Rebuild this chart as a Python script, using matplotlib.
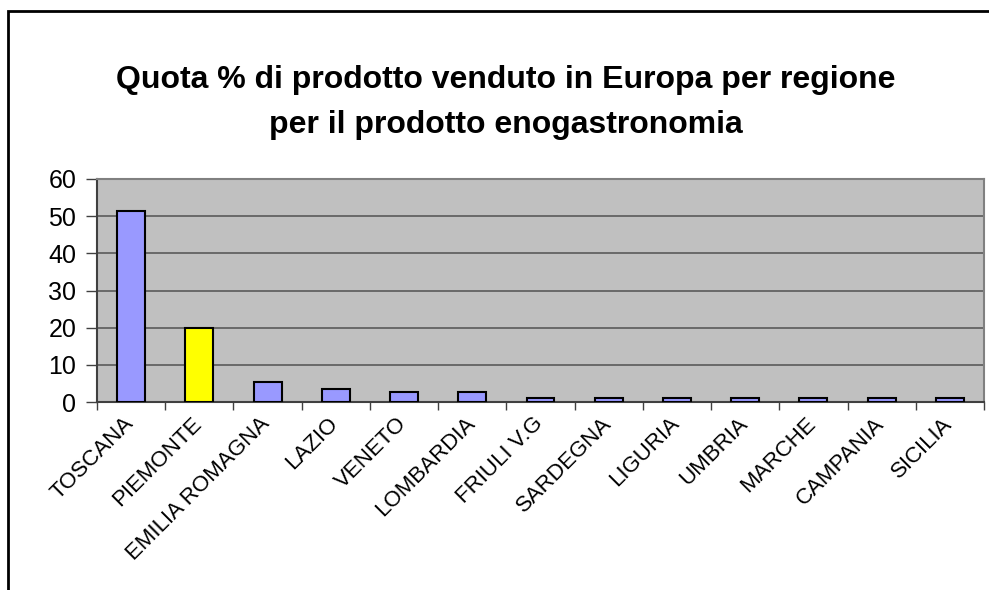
import matplotlib.pyplot as plt
import matplotlib.transforms as mtransforms
import numpy as np
from matplotlib.patches import Rectangle

plt.rcParams['font.family'] = ['Liberation Sans', 'DejaVu Sans']

# Data
regions = ['TOSCANA', 'PIEMONTE', 'EMILIA ROMAGNA', 'LAZIO', 'VENETO', 'LOMBARDIA',
           'FRIULI V.G', 'SARDEGNA', 'LIGURIA', 'UMBRIA', 'MARCHE', 'CAMPANIA', 'SICILIA']
quota = [51.5, 19.8, 5.3, 3.6, 2.7, 2.7, 1.0, 1.0, 1.0, 1.0, 1.0, 1.0, 1.0]
bar_colors = ['#9999FF', '#FFFF00'] + ['#9999FF'] * 11
y_ticks = [0, 10, 20, 30, 40, 50, 60]

fig = plt.figure(figsize=(9.89, 5.90), dpi=100)

# outer chart frame (only left and top edges fall inside the picture)
fig.patches.append(Rectangle((8 / 989, -0.1), 1.2, (590 - 11) / 590 + 0.1,
                             transform=fig.transFigure, fill=False,
                             edgecolor='black', linewidth=2))

ax = fig.add_axes([97 / 989, (590 - 402) / 590, (984 - 97) / 989, (402 - 179) / 590])
ax.set_facecolor('#C0C0C0')

x = np.arange(len(regions))
ax.bar(x, quota, width=0.41, color=bar_colors, edgecolor='black', linewidth=1.5, zorder=3)

ax.set_xlim(-0.5, len(regions) - 0.5)
ax.set_ylim(0, 60)
ax.set_yticks(y_ticks)
ax.set_yticklabels([str(v) for v in y_ticks], fontsize=18)
ax.yaxis.grid(True, color='#5a5a5a', linewidth=1.2, zorder=1)
ax.tick_params(axis='y', length=8, width=1, color='#404040', pad=7)

ax.set_xticks(x)
ax.set_xticklabels(regions, rotation=45, ha='right', rotation_mode='anchor', fontsize=16)
ax.tick_params(axis='x', which='major', length=0, pad=8)
ax.set_xticks(np.arange(-0.5, len(regions), 1), minor=True)
ax.tick_params(axis='x', which='minor', length=6, width=1, color='#404040', direction='out')

# nudge the slanted labels a little to the left, as in the original
shift = mtransforms.ScaledTranslation(-8 / 100, 0, fig.dpi_scale_trans)
for lbl in ax.get_xticklabels():
    lbl.set_transform(lbl.get_transform() + shift)

for side in ['left', 'bottom']:
    ax.spines[side].set_color('#404040')
    ax.spines[side].set_linewidth(1.5)
for side in ['top', 'right']:
    ax.spines[side].set_color('#808080')
    ax.spines[side].set_linewidth(1.5)

fig.text(506 / 989, 1 - 80 / 590, 'Quota % di prodotto venduto in Europa per regione',
         ha='center', va='center', fontsize=23, fontweight='bold')
fig.text(506 / 989, 1 - 125 / 590, 'per il prodotto enogastronomia',
         ha='center', va='center', fontsize=23, fontweight='bold')

plt.savefig('out.png', dpi=100)
